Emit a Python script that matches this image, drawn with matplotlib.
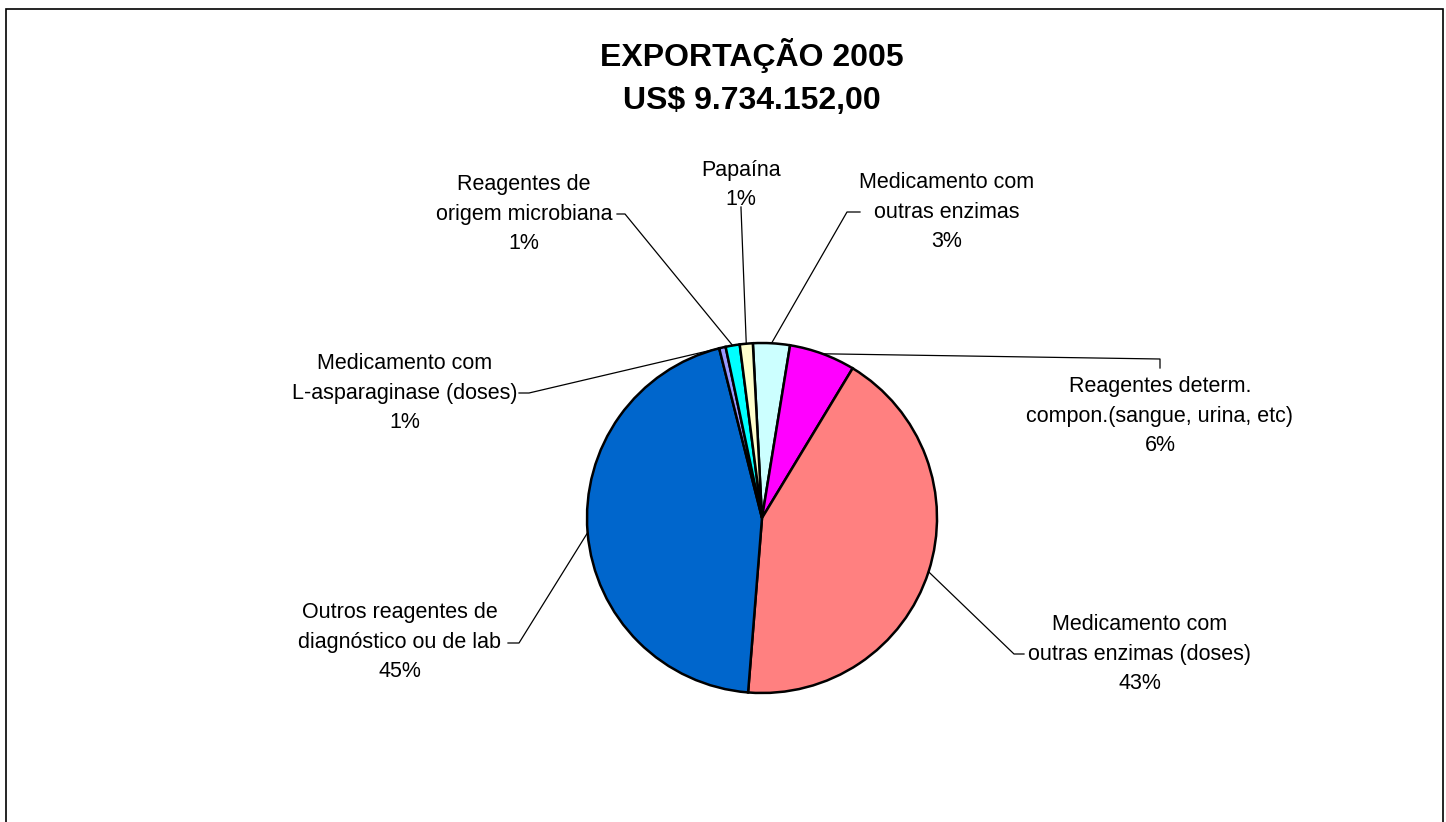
import numpy as np
import matplotlib
matplotlib.use("Agg")
from matplotlib import pyplot as plt
from matplotlib.patches import Rectangle

plt.rcParams['font.family'] = ['Liberation Sans', 'DejaVu Sans']

# slices, clockwise from top
labels = ['Medicamento com\noutras enzimas',
          'Reagentes determ.\ncompon.(sangue, urina, etc)',
          'Medicamento com\noutras enzimas (doses)',
          'Outros reagentes de\ndiagnóstico ou de lab',
          'Medicamento com\nL-asparaginase (doses)',
          'Reagentes de\norigem microbiana',
          'Papaína']
shares = [3.4, 6.1, 42.6, 44.8, 0.6, 1.3, 1.2]
colors = ['#CCFFFF', '#FF00FF', '#FF8080', '#0066CC', '#9999FF', '#00FFFF', '#FFFFCC']
title = 'EXPORTAÇÃO 2005\nUS$ 9.734.152,00'

W, H = 1446, 822
cx, cy, R = 762, 518, 175

fig = plt.figure(figsize=(W / 100, H / 100), dpi=100)
fig.patches.append(Rectangle((6 / W, -0.1), (1443 - 6) / W, 1.1 - 9 / H,
                             transform=fig.transFigure, fill=False,
                             edgecolor='black', linewidth=1.2))
ax = fig.add_axes([(cx - R) / W, (H - cy - R) / H, 2 * R / W, 2 * R / H])
start = 93
wedges, _ = ax.pie(shares, colors=colors, startangle=start, counterclock=False,
                   radius=1, wedgeprops=dict(edgecolor='black', linewidth=1.8))
ax.set_xlim(-1, 1)
ax.set_ylim(-1, 1)
ax.set_aspect('equal')
ax.axis('off')


def to_data(px, py):
    return (px - cx) / R, (cy - py) / R


# label layout: text centre, then leader path from text towards the rim
layout = [
    ((947, 212), [(860, 212), (847, 212)]),
    ((1160, 416), [(1160, 368), (1160, 359)]),
    ((1140, 654), [(1024, 654), (1014, 654)]),
    ((400, 642), [(508, 643), (519, 643)]),
    ((405, 393), [(519, 393), (529, 393)]),
    ((524, 214), [(617, 214), (625, 214)]),
    ((741, 185), [(741, 207), (741, 208)]),
]

total = sum(shares)
acc = 0
for lab, val, (tpos, path) in zip(labels, shares, layout):
    mid = np.deg2rad(start - (acc + val / 2) / total * 360)
    acc += val
    rim = (np.cos(mid), np.sin(mid))
    pts = [to_data(*p) for p in path] + [rim]
    ax.plot([p[0] for p in pts], [p[1] for p in pts], color='black',
            linewidth=0.9, clip_on=False)
    tx, ty = to_data(*tpos)
    ax.text(tx, ty, f'{lab}\n{val:.0f}%', ha='center', va='center',
            multialignment='center', fontsize=15.5, linespacing=1.55)

fig.text(752 / W, 1 - 77 / H, title, ha='center', va='center',
         fontsize=23, fontweight='bold', linespacing=1.55)

fig.savefig('out.png', dpi=100)
